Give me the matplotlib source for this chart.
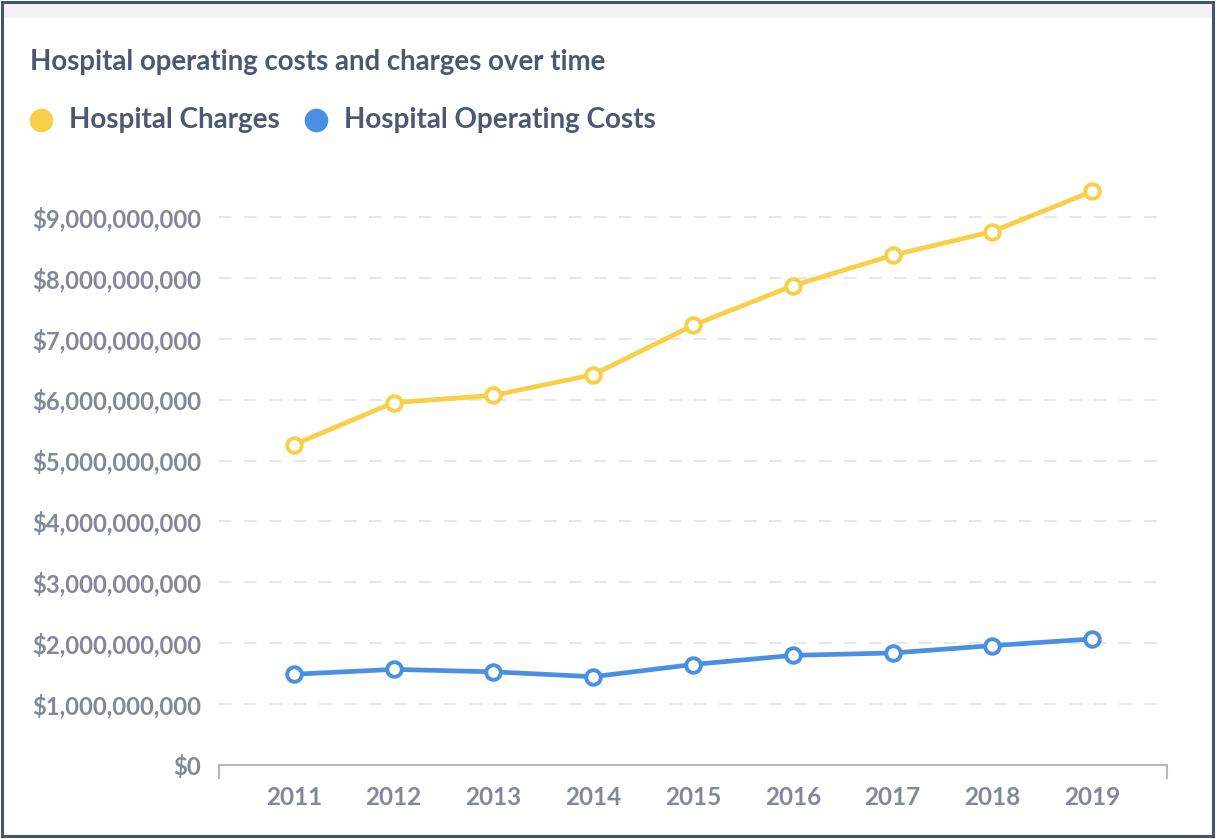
import matplotlib
matplotlib.use("Agg")
import matplotlib.pyplot as plt
from matplotlib.lines import Line2D
from matplotlib.patches import Rectangle
from matplotlib.ticker import FuncFormatter

years = ["2011", "2012", "2013", "2014", "2015", "2016", "2017", "2018", "2019"]
hospital_charges = [5.26e9, 5.95e9, 6.07e9, 6.41e9, 7.22e9, 7.87e9, 8.37e9, 8.76e9, 9.42e9]
operating_costs = [1.49e9, 1.57e9, 1.53e9, 1.45e9, 1.65e9, 1.80e9, 1.84e9, 1.96e9, 2.07e9]
y_ticks = [0, 1e9, 2e9, 3e9, 4e9, 5e9, 6e9, 7e9, 8e9, 9e9]

YELLOW = "#F9CF48"
BLUE = "#4A90E2"
DARK = "#4C5773"
GREY = "#838899"

plt.rcParams["font.family"] = ["Lato", "DejaVu Sans"]
plt.rcParams["font.weight"] = "bold"

fig = plt.figure(figsize=(12.17, 8.39), dpi=100)
W, H = 1217, 839

def fx(px):
    return px / W

def fy(py):
    return 1 - py / H

# frame and top band
fig.add_artist(Rectangle((fx(2), fy(18)), fx(1212), fy(4) - fy(18), transform=fig.transFigure,
                         facecolor="#F1F2F4", edgecolor="none", zorder=0))
fig.add_artist(Rectangle((fx(2), fy(836)), fx(1211), fy(2) - fy(836), transform=fig.transFigure,
                         facecolor="none", edgecolor="#45536E", linewidth=2.2, zorder=10))

ax = fig.add_axes([fx(219), fy(765), fx(1167) - fx(219), (765 - 180.4) / H])
x = list(range(len(years)))

ax.plot(x, hospital_charges, color=YELLOW, linewidth=3.4, marker="o", markersize=10.5,
        markerfacecolor="white", markeredgecolor=YELLOW, markeredgewidth=2.8, zorder=3, clip_on=False)
ax.plot(x, operating_costs, color=BLUE, linewidth=3.4, marker="o", markersize=10.5,
        markerfacecolor="white", markeredgecolor=BLUE, markeredgewidth=2.8, zorder=3, clip_on=False)

ax.set_xlim(-0.75, len(years) - 1 + 0.75)
ax.set_ylim(0, 9.6e9)
ax.set_yticks(y_ticks)
ax.yaxis.set_major_formatter(FuncFormatter(lambda v, p: "$0" if v == 0 else "${:,.0f}".format(v)))
ax.set_xticks(x)
ax.set_xticklabels(years, fontweight="bold")

for s in ["top", "right", "left"]:
    ax.spines[s].set_visible(False)
ax.spines["bottom"].set_color("#B5B8C1")
ax.spines["bottom"].set_linewidth(1.5)

ax.tick_params(axis="y", length=0, pad=13, labelsize=17.2, labelcolor=GREY)
ax.tick_params(axis="x", length=0, pad=15, labelsize=17.5, labelcolor=GREY)

for v in y_ticks[1:]:
    ax.axhline(v, color="#E6E7EA", linewidth=1.5, linestyle=(0, (6, 6)), zorder=1)

for xe in (0, 1):
    ax.add_line(Line2D([xe, xe], [0, -0.022], transform=ax.transAxes, color="#B5B8C1",
                       linewidth=1.5, clip_on=False))

fig.text(fx(30), fy(62), "Hospital operating costs and charges over time", fontsize=19.9,
         fontweight="bold", color=DARK, va="center", ha="left")

fig.add_artist(Line2D([fx(41)], [fy(120)], marker="o", markersize=16, color=YELLOW,
                      transform=fig.transFigure, linestyle="none"))
fig.text(fx(69), fy(120), "Hospital Charges", fontsize=20, fontweight="bold",
         color=DARK, va="center", ha="left")
fig.add_artist(Line2D([fx(316)], [fy(120)], marker="o", markersize=16, color=BLUE,
                      transform=fig.transFigure, linestyle="none"))
fig.text(fx(344), fy(120), "Hospital Operating Costs", fontsize=20, fontweight="bold",
         color=DARK, va="center", ha="left")

fig.savefig("out.png", dpi=100)
